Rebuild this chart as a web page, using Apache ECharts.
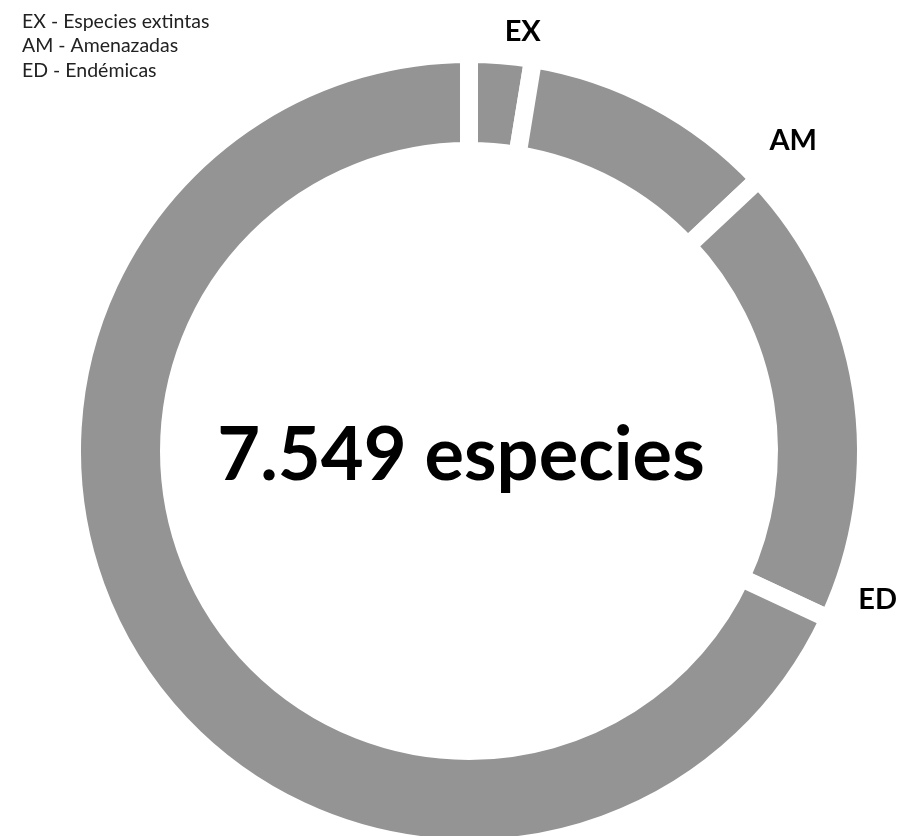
<!DOCTYPE html>
<html>
<head>
<meta charset="utf-8">
<script src="https://cdn.jsdelivr.net/npm/echarts@6/dist/echarts.min.js"></script>
<style>
  html, body { margin: 0; padding: 0; background: #ffffff; }
  #chart { width: 906px; height: 836px; }
</style>
</head>
<body>
<div id="chart"></div>
<script>
// Species by category (ring segments, clockwise from 12 o'clock)
const categories = ['EX', 'AM', 'ED', 'Resto'];
const speciesCounts = [195, 787, 1430, 5137];
const labelledCategories = ['EX', 'AM', 'ED'];
const legendLines = ['EX - Especies extintas', 'AM - Amenazadas', 'ED - Endémicas'];
const totalLabel = '7.549 especies';

// Ring geometry
const CX = 469, CY = 451, R_IN = 300, R_OUT = 397, GAP = 18;
// Outer label placement: [degrees back from the segment's end, distance from centre]
const labelPlacement = { EX: [2.0, 423], AM: [0.6, 449], ED: [5.0, 435] };

const FONT = 'Lato';
const total = speciesCounts.reduce((a, b) => a + b, 0);
const endAngles = [];
let acc = 0;
speciesCounts.forEach(v => { acc += v; endAngles.push(acc / total * 360); });

const chart = echarts.init(document.getElementById('chart'), null, { renderer: 'canvas' });
chart.setOption({
  animation: false,
  backgroundColor: '#ffffff',
  title: [
    {
      text: legendLines.join('\n'),
      left: 22, top: 9, padding: 0,
      textStyle: { fontFamily: FONT, fontSize: 19.5, fontWeight: 'normal', color: '#222', lineHeight: 24.5 }
    },
    {
      text: totalLabel,
      left: 461, top: 419, textAlign: 'center', padding: 0,
      textStyle: { fontFamily: FONT, fontSize: 74, fontWeight: 'bold', color: '#000', lineHeight: 74 }
    }
  ],
  series: [{
    type: 'pie',
    center: [CX, CY],
    radius: [R_IN, R_OUT],
    startAngle: 90,
    clockwise: true,
    silent: true,
    avoidLabelOverlap: false,
    itemStyle: { color: '#949494', borderColor: '#ffffff', borderWidth: GAP },
    label: {
      show: true, position: 'outside', formatter: '{b}',
      fontFamily: FONT, fontSize: 29, fontWeight: 'bold', color: '#000'
    },
    labelLine: { show: false },
    labelLayout: function (params) {
      const idx = params.dataIndex;
      const p = labelPlacement[categories[idx]];
      if (!p) return {};
      const t = (endAngles[idx] - p[0]) * Math.PI / 180;
      return {
        x: CX + p[1] * Math.sin(t),
        y: CY - p[1] * Math.cos(t),
        align: 'center',
        verticalAlign: 'middle'
      };
    },
    data: categories.map((c, i) => ({
      name: c,
      value: speciesCounts[i],
      label: { show: labelledCategories.indexOf(c) >= 0 }
    }))
  }]
});
</script>
</body>
</html>
